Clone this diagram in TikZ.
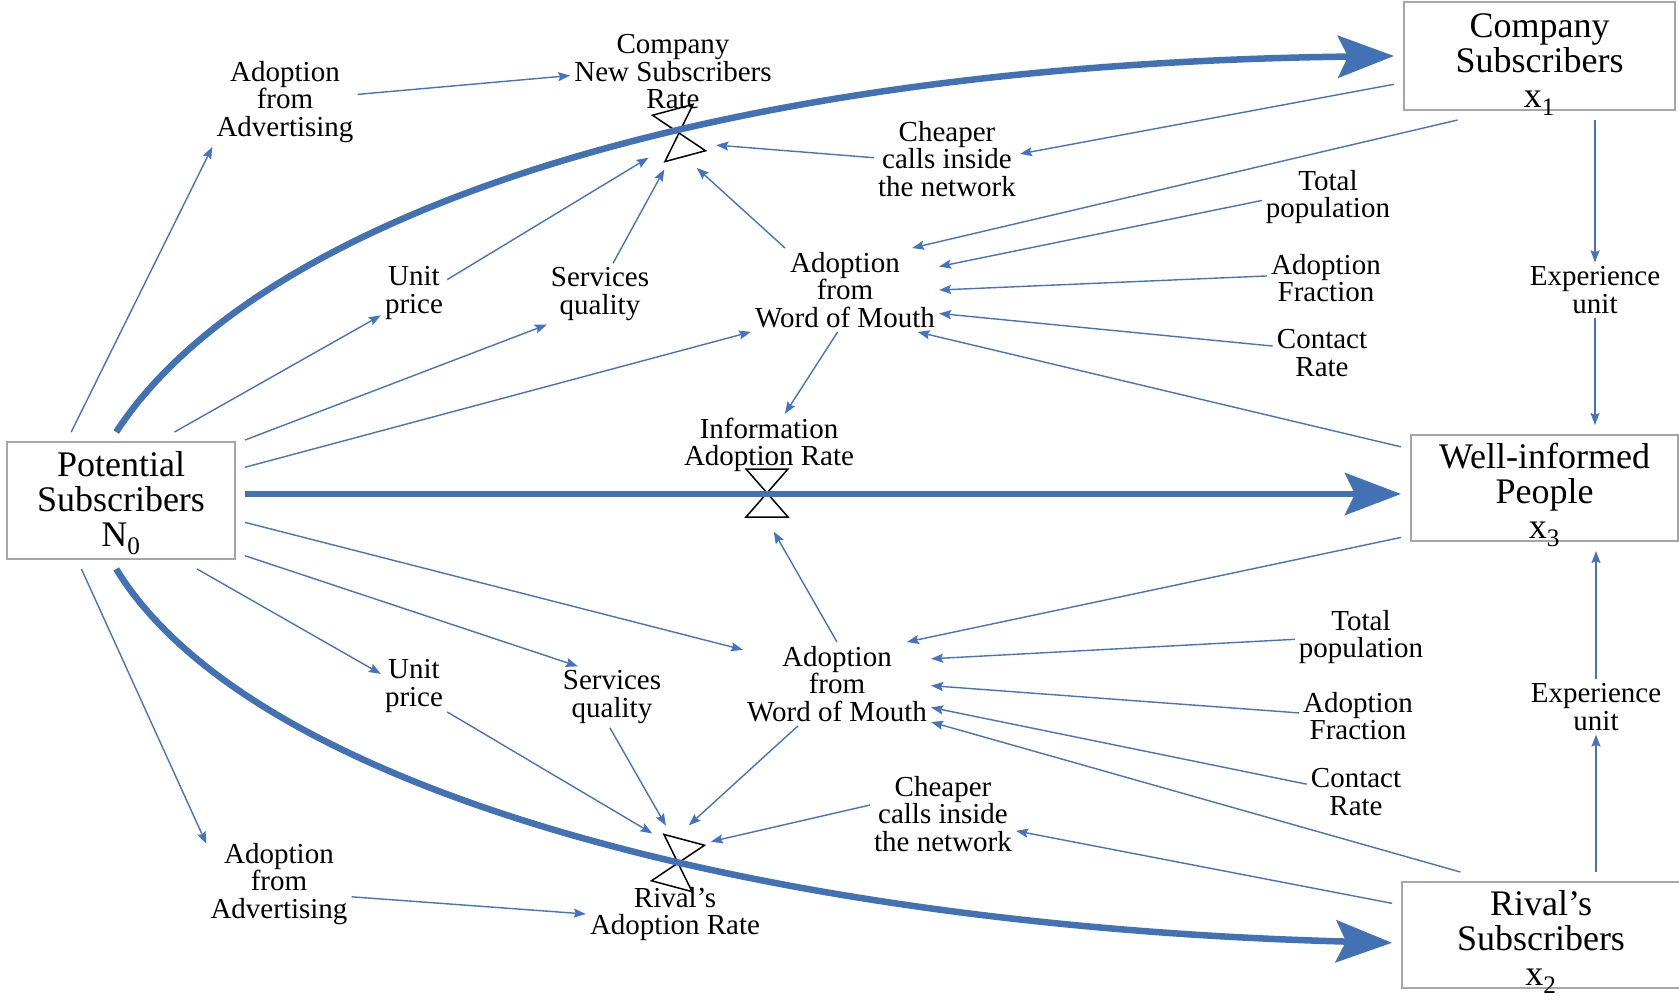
\documentclass[tikz,border=0pt]{standalone}
\usepackage{fontspec}
\setmainfont{Liberation Serif}
\usetikzlibrary{arrows.meta}

\definecolor{flowblue}{RGB}{66,113,180}
\definecolor{lineblue}{RGB}{68,114,196}
\definecolor{boxgray}{RGB}{166,166,166}

\tikzset{
  stockbox/.style={draw=boxgray, line width=1.2pt, inner sep=0pt, outer sep=10pt},
  stocktext/.style={align=center, inner sep=0pt, font=\fontsize{36}{35}\selectfont},
  auxvar/.style={align=center, inner sep=4pt, font=\fontsize{29}{27.5}\selectfont},
  valvezone/.style={circle, minimum size=78pt, inner sep=0pt},
  flowarr/.style={draw=flowblue, line width=6.5pt, -{Stealth[length=56pt,width=42pt,inset=10pt]}},
  infl/.style={draw=lineblue, line width=1.4pt, -{Stealth[length=12pt,width=9pt,inset=2pt]}},
  valve/.pic={\draw[black, line width=1.5pt, line join=miter] (-21,-24) -- (21,-24) -- (-21,24) -- (21,24) -- cycle;}
}

\begin{document}
\begin{tikzpicture}[x=1pt, y=-1pt]
  \useasboundingbox (0,0) rectangle (1679,1004);

  %% stocks
  \node[stockbox, minimum width=228pt, minimum height=117pt,
    label={[stocktext, yshift=-2.5pt]center:Potential\\Subscribers\\N\textsubscript{0}}] (pot) at (121,500.5) {};
  \node[stockbox, minimum width=271pt, minimum height=108pt,
    label={[stocktext, yshift=-9pt]center:Company\\Subscribers\\x\textsubscript{1}}] (comp) at (1539.5,56) {};
  \node[stockbox, minimum width=267pt, minimum height=106pt,
    label={[stocktext, yshift=-7pt]center:Well-informed\\People\\x\textsubscript{3}}] (well) at (1544.5,488) {};
  \node[stockbox, minimum width=278pt, minimum height=106pt,
    label={[stocktext, yshift=-7pt]center:Rival's\\Subscribers\\x\textsubscript{2}}] (rival) at (1541,935) {};

  %% upper part
  \node[auxvar] (advT) at (285,102) {Adoption\\from\\Advertising};
  \node[auxvar] (cnsr) at (673,72) {Company\\New Subscribers\\Rate};
  \node[auxvar] (cheapT) at (947,159) {Cheaper\\calls inside\\the network};
  \node[auxvar] (unitT) at (414,293) {Unit\\price};
  \node[auxvar] (servT) at (600,294) {Services\\quality};
  \node[auxvar] (womT) at (845,290) {Adoption\\from\\Word of Mouth};
  \node[auxvar] (totT) at (1328,197) {Total\\population};
  \node[auxvar] (fracT) at (1326,278) {Adoption\\Fraction};
  \node[auxvar] (contT) at (1322,353) {Contact\\Rate};
  \node[auxvar] (expT) at (1595,290) {Experience\\unit};
  \node[auxvar] (info) at (769,445) {Information\\Adoption Rate};

  %% lower part
  \node[auxvar] (womB) at (837,684) {Adoption\\from\\Word of Mouth};
  \node[auxvar] (unitB) at (414,686) {Unit\\price};
  \node[auxvar] (servB) at (612,697) {Services\\quality};
  \node[auxvar] (totB) at (1361,637) {Total\\population};
  \node[auxvar] (fracB) at (1358,716) {Adoption\\Fraction};
  \node[auxvar] (contB) at (1356,792) {Contact\\Rate};
  \node[auxvar] (expB) at (1596,707) {Experience\\unit};
  \node[auxvar] (cheapB) at (943,814) {Cheaper\\calls inside\\the network};
  \node[auxvar] (advB) at (279,884) {Adoption\\from\\Advertising};
  \node[auxvar] (rivR) at (675,914) {Rival's\\Adoption Rate};

  %% valves
  \node[valvezone] (v1) at (679,133) {};
  \node[valvezone] (v2) at (767,493) {};
  \node[valvezone] (v3) at (678,863) {};
  \pic[rotate=15] at (v1) {valve};
  \pic at (v2) {valve};
  \pic[rotate=-15] at (v3) {valve};

  %% flows
  \draw[flowarr] (pot.94) .. controls +(135,-207) and +(-712,9) .. (comp.west);
  \draw[flowarr] (pot.3) -- (pot.3 -| well.west);
  \draw[flowarr] (pot.266) .. controls +(135,221) and +(-632,-17) .. (rival.183);

  %% influences, upper
  \draw[infl] (pot.126) -- (advT.south west);
  \draw[infl] (advT.6) -- (cnsr.182);
  \draw[infl] (cheapT.179) -- (v1.-18);
  \draw[infl] (comp.191) -- (cheapT.4);
  \draw[infl] (comp.218) -- (womT.32);
  \draw[infl] (totT.183) -- (womT.14);
  \draw[infl] (fracT.178) -- (womT.0);
  \draw[infl] (contT.172) -- (womT.-14);
  \draw[infl] (well.164) -- (womT.-30);
  \draw[infl] (womT.145) -- (v1.-63);
  \draw[infl] (servT.67) -- (v1.248);
  \draw[infl] (unitT.22) -- (v1.219);
  \draw[infl] (pot.52) -- (unitT.214);
  \draw[infl] (pot.26) -- (servT.210);
  \draw[infl] (pot.15) -- (womT.204);
  \draw[infl] (womT.260) -- (info.63);
  \draw[infl] (comp.south -| expT.north) -- (expT.north);
  \draw[infl] (expT.south) -- (well.north -| expT.south);

  %% influences, lower
  \draw[infl] (well.199) -- (womB.31);
  \draw[infl] (totB.182) -- (womB.15);
  \draw[infl] (fracB.177) -- (womB.-1);
  \draw[infl] (contB.171) -- (womB.-14);
  \draw[infl] (rival.142) -- (womB.-22);
  \draw[infl] (rival.168) -- (cheapB.-13);
  \draw[infl] (cheapB.173) -- (v3.33);
  \draw[infl] (womB.227) -- (v3.74);
  \draw[infl] (womB.north) -- (v2.-80);
  \draw[infl] (servB.266) -- (v3.108);
  \draw[infl] (unitB.-38) -- (v3.131);
  \draw[infl] (pot.-42) -- (unitB.160);
  \draw[infl] (pot.-24) -- (servB.138);
  \draw[infl] (pot.-10) -- (womB.160);
  \draw[infl] (pot.240) -- (advB.151);
  \draw[infl] (advB.-10) -- (rivR.180);
  \draw[infl] (rival.north -| expB.south) -- (expB.south);
  \draw[infl] (expB.north) -- (well.south -| expB.north);
\end{tikzpicture}
\end{document}
